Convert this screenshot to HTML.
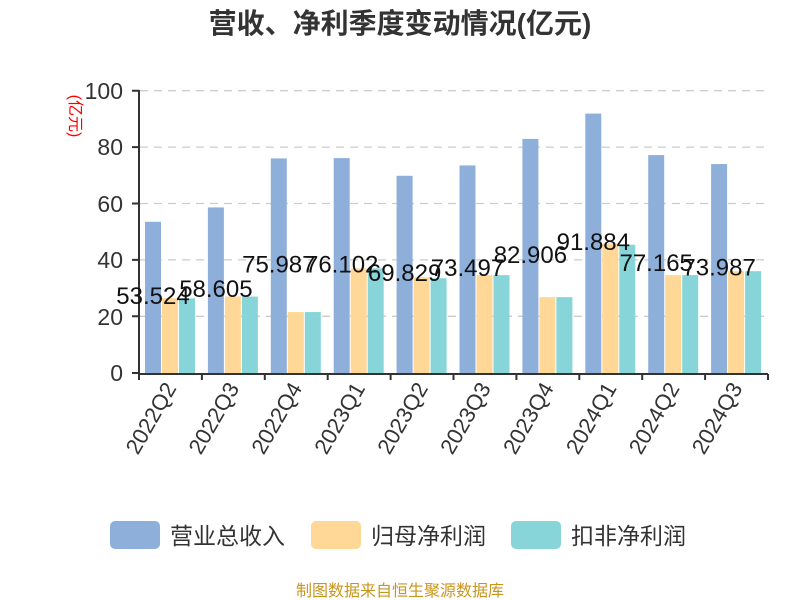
<!DOCTYPE html>
<html><head><meta charset="utf-8"><style>body{margin:0;background:#fff}svg{display:block}</style></head><body>
<svg width="800" height="600" xmlns="http://www.w3.org/2000/svg" font-family="'Liberation Sans','Noto Sans CJK SC',sans-serif">
<text x="400" y="33" text-anchor="middle" font-size="28" font-weight="bold" fill="#333">营收、净利季度变动情况(亿元)</text>
<text transform="translate(70,116) rotate(90)" text-anchor="middle" font-size="16" fill="#f00">(亿元)</text>
<g stroke="#ccc" stroke-width="1.3" stroke-dasharray="8,6">
<line x1="140" x2="768" y1="90.7" y2="90.7"/><line x1="140" x2="768" y1="147.1" y2="147.1"/><line x1="140" x2="768" y1="203.5" y2="203.5"/><line x1="140" x2="768" y1="259.9" y2="259.9"/><line x1="140" x2="768" y1="316.3" y2="316.3"/>
</g>
<g font-size="23" fill="#333" text-anchor="end">
<text x="123" y="99">100</text><text x="123" y="155">80</text><text x="123" y="212">60</text><text x="123" y="268">40</text><text x="123" y="325">20</text><text x="123" y="381">0</text>
</g>
<g id="bars"></g>
<g stroke="#333" stroke-width="2" fill="none">
<line x1="139" y1="90" x2="139" y2="374"/><line x1="138" y1="374" x2="768" y2="374"/>
<path d="M132 90.7H139M132 147.1H139M132 203.5H139M132 259.9H139M132 316.3H139M132 373H139"/>
<path d="M139 374v6M201.9 374v6M264.8 374v6M327.7 374v6M390.6 374v6M453.5 374v6M516.4 374v6M579.3 374v6M642.2 374v6M705.1 374v6M768 374v6"/>
</g>
<g id="lbl" font-size="24" fill="#111" text-anchor="middle"></g>
<g id="xl" font-size="22" fill="#333" text-anchor="end"></g>
<rect x="110" y="521" width="50" height="28" rx="5" fill="#8fafdb"/><text x="170" y="544" font-size="23" fill="#333">营业总收入</text>
<rect x="311" y="521" width="50" height="28" rx="5" fill="#ffd796"/><text x="371" y="544" font-size="23" fill="#333">归母净利润</text>
<rect x="511" y="521" width="50" height="28" rx="5" fill="#87d5d8"/><text x="571" y="544" font-size="23" fill="#333">扣非净利润</text>
<text x="400" y="596" text-anchor="middle" font-size="16" fill="#c8961e">制图数据来自恒生聚源数据库</text>
<script>
var rev=[53.524,58.605,75.987,76.102,69.829,73.497,82.906,91.884,77.165,73.987];
var net=[26.4,27,21.5,37,33.8,34.6,26.8,45.8,34.6,36];
var ded=[26.4,27,21.5,37,33.5,34.6,26.8,45.4,34.6,36];
var cats=["2022Q2","2022Q3","2022Q4","2023Q1","2023Q2","2023Q3","2023Q4","2024Q1","2024Q2","2024Q3"];
var ns="http://www.w3.org/2000/svg";function Y(v){return 372.7-2.82*v}
var b=document.getElementById("bars"),l=document.getElementById("lbl"),x=document.getElementById("xl");
function r(xx,v,c){var e=document.createElementNS(ns,"rect");e.setAttribute("x",xx);e.setAttribute("y",Y(v));e.setAttribute("width",16);e.setAttribute("height",373-Y(v));e.setAttribute("fill",c);b.appendChild(e)}
for(var i=0;i<10;i++){var x0=139+i*62.9;r(x0+6,rev[i],"#8fafdb");r(x0+23,net[i],"#ffd796");r(x0+40,ded[i],"#87d5d8");
var t=document.createElementNS(ns,"text");t.setAttribute("x",x0+14);t.setAttribute("y",Y(rev[i]/2)+7);t.textContent=rev[i].toFixed(3);l.appendChild(t);
var s=document.createElementNS(ns,"text");s.setAttribute("transform","translate("+(x0+38)+",388) rotate(-60)");s.textContent=cats[i];x.appendChild(s);}
</script>
</svg>
</body></html>
